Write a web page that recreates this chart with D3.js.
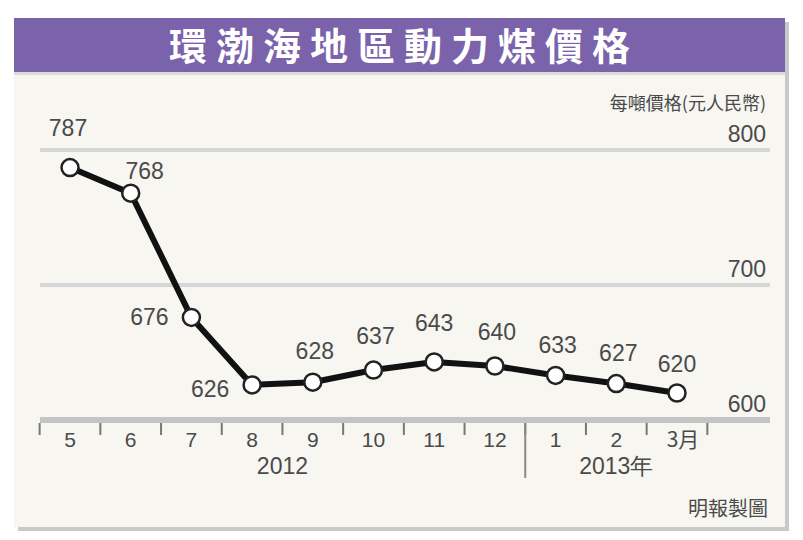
<!DOCTYPE html>
<html>
<head>
<meta charset="utf-8">
<script src="https://cdn.jsdelivr.net/npm/d3@7"></script>
<style>
  body { margin: 0; background: #ffffff; }
  svg { display: block; }
</style>
</head>
<body>
<script>
/** Data */
const months = ["5", "6", "7", "8", "9", "10", "11", "12", "1", "2", "3月"];
const prices = [787, 768, 676, 626, 628, 637, 643, 640, 633, 627, 620];
const yTicks = [600, 700, 800];
const years = [{ label: "2012", from: "5", to: "12" }, { label: "2013年", from: "1", to: "3月" }];
const titleText = "環渤海地區動力煤價格";
const unitText = "每噸價格(元人民幣)";
const sourceText = "明報製圖";

/** Label offsets (dx, dy) from each point */
const labelOffsets = [[-2, -38], [14, -20], [-42, 2], [-42, 6], [2, -29], [2, -32], [0, -37], [2, -32], [2, -29], [2, -29], [0, -27]];

const width = 803;
const height = 540;
const font = "'Liberation Sans', Arial, sans-serif";
const cjk = "'Noto Sans CJK TC', 'Noto Sans CJK SC', sans-serif";

const svg = d3.select("body").append("svg")
  .attr("width", width)
  .attr("height", height);

// panel shadow + panel
svg.append("rect").attr("x", 18).attr("y", 22).attr("width", 771).attr("height", 509).attr("fill", "#c9c9c9");
svg.append("rect").attr("x", 14).attr("y", 18).attr("width", 771).attr("height", 509).attr("fill", "#f7f6f1");

// title bar
svg.append("rect").attr("x", 14).attr("y", 18).attr("width", 771).attr("height", 54).attr("fill", "#7a63aa");
svg.append("rect").attr("x", 14).attr("y", 72).attr("width", 771).attr("height", 3).attr("fill", "#dcdcdc");
svg.append("text")
  .attr("x", 404).attr("y", 60)
  .attr("text-anchor", "middle")
  .attr("font-family", cjk)
  .attr("font-weight", "bold")
  .attr("font-size", "38px")
  .attr("letter-spacing", "9px")
  .attr("fill", "#ffffff")
  .text(titleText);

const x = d3.scalePoint().domain(months).range([70, 677]);
const y = d3.scaleLinear().domain([600, 800]).range([420, 150]);
const step = x.step();

// grid lines
svg.selectAll("line.grid")
  .data(yTicks)
  .enter()
  .append("line")
  .attr("class", "grid")
  .attr("x1", 40).attr("x2", 770)
  .attr("y1", d => y(d)).attr("y2", d => y(d))
  .attr("stroke", d => d === 600 ? "#c4c4c4" : "#d6d6d6")
  .attr("stroke-width", d => d === 600 ? 6 : 4);

svg.selectAll("text.ytick")
  .data(yTicks)
  .enter()
  .append("text")
  .attr("class", "ytick")
  .attr("x", 766)
  .attr("y", d => y(d) - 8)
  .attr("text-anchor", "end")
  .attr("font-family", font)
  .attr("font-size", "23px")
  .attr("fill", "#4a4a4a")
  .text(d => d);

svg.append("text")
  .attr("x", 766).attr("y", 110)
  .attr("text-anchor", "end")
  .attr("font-family", cjk)
  .attr("font-size", "18px")
  .attr("fill", "#4a4a4a")
  .text(unitText);

// x axis ticks (between months)
const tickPos = months.map(m => x(m) - step / 2).concat([x(months[months.length - 1]) + step / 2]);
svg.selectAll("line.xtick")
  .data(tickPos)
  .enter()
  .append("line")
  .attr("class", "xtick")
  .attr("x1", d => d).attr("x2", d => d)
  .attr("y1", 423).attr("y2", 435)
  .attr("stroke", "#777")
  .attr("stroke-width", 2);

// year separator
const sep = x("1") - step / 2;
svg.append("line")
  .attr("x1", sep).attr("x2", sep)
  .attr("y1", 423).attr("y2", 478)
  .attr("stroke", "#888")
  .attr("stroke-width", 2);

svg.selectAll("text.xlabel")
  .data(months)
  .enter()
  .append("text")
  .attr("class", "xlabel")
  .attr("x", d => x(d) + (d === "3月" ? 6 : 0))
  .attr("y", 447)
  .attr("text-anchor", "middle")
  .attr("font-family", d => d === "3月" ? cjk : font)
  .attr("font-size", "21px")
  .attr("fill", "#4a4a4a")
  .text(d => d);

svg.selectAll("text.year")
  .data(years)
  .enter()
  .append("text")
  .attr("class", "year")
  .attr("x", d => (x(d.from) + x(d.to)) / 2)
  .attr("y", 474)
  .attr("text-anchor", "middle")
  .attr("font-family", font)
  .attr("font-size", "23px")
  .attr("fill", "#4a4a4a")
  .text(d => d.label);

svg.append("text")
  .attr("x", 768).attr("y", 516)
  .attr("text-anchor", "end")
  .attr("font-family", cjk)
  .attr("font-size", "20px")
  .attr("fill", "#4a4a4a")
  .text(sourceText);

// line
const line = d3.line()
  .x((d, i) => x(months[i]))
  .y(d => y(d));

svg.append("path")
  .datum(prices)
  .attr("d", line)
  .attr("fill", "none")
  .attr("stroke", "#111")
  .attr("stroke-width", 6)
  .attr("stroke-linejoin", "round");

svg.selectAll("circle.pt")
  .data(prices)
  .enter()
  .append("circle")
  .attr("class", "pt")
  .attr("cx", (d, i) => x(months[i]))
  .attr("cy", d => y(d))
  .attr("r", 8.5)
  .attr("fill", "#ffffff")
  .attr("stroke", "#222")
  .attr("stroke-width", 2.5);

svg.selectAll("text.val")
  .data(prices)
  .enter()
  .append("text")
  .attr("class", "val")
  .attr("x", (d, i) => x(months[i]) + labelOffsets[i][0])
  .attr("y", (d, i) => y(d) + labelOffsets[i][1])
  .attr("text-anchor", "middle")
  .attr("dominant-baseline", "middle")
  .attr("font-family", font)
  .attr("font-size", "23px")
  .attr("fill", "#4a4a4a")
  .text(d => d);
</script>
</body>
</html>
